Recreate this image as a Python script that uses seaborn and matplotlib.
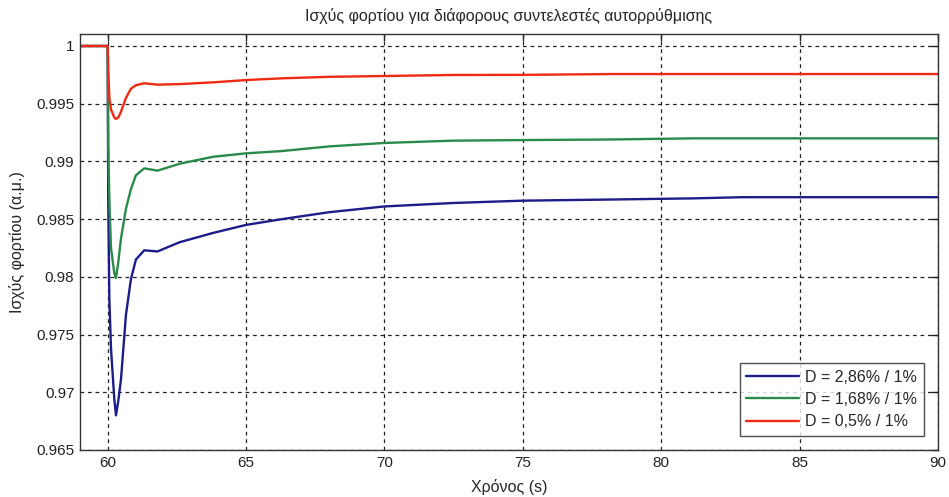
import pandas as pd
import matplotlib
matplotlib.use("Agg")
import matplotlib.pyplot as plt
import seaborn as sns

### values
time = [59.0, 60.0, 60.02, 60.06, 60.12, 60.24, 60.3, 60.38, 60.48, 60.66, 60.84,
        61.02, 61.32, 61.8, 62.6, 63.8, 65.0, 66.3, 68.0, 70.0, 72.5, 75.0, 78.2,
        81.2, 82.9, 90.0]

p_286 = [1.0, 1.0, 0.9868, 0.9781, 0.9738, 0.9694, 0.9680, 0.9692, 0.9711, 0.9767,
         0.9798, 0.9815, 0.9823, 0.9822, 0.9830, 0.9838, 0.9845, 0.9850, 0.9856,
         0.9861, 0.9864, 0.9866, 0.9867, 0.9868, 0.9869, 0.9869]

p_168 = [1.0, 1.0, 0.9915, 0.9867, 0.9825, 0.9803, 0.9799, 0.9812, 0.9833, 0.9859,
         0.9876, 0.9888, 0.9894, 0.9892, 0.9898, 0.9904, 0.9907, 0.9909, 0.9913,
         0.9916, 0.9918, 0.99185, 0.9919, 0.9920, 0.9920, 0.9920]

p_05 = [1.0, 1.0, 0.9980, 0.9955, 0.9945, 0.9938, 0.99368, 0.9938, 0.9943, 0.9955,
        0.9963, 0.9966, 0.99677, 0.99665, 0.9967, 0.99685, 0.99705, 0.9972, 0.99733,
        0.9974, 0.99749, 0.9975, 0.99757, 0.99757, 0.99757, 0.99757]

labels = ['D = 2,86% / 1%', 'D = 1,68% / 1%', 'D = 0,5% / 1%']
colors = ['#1c1c8a', '#2a8a4a', '#f02a12']

xticks = [60, 65, 70, 75, 80, 85, 90]
yticks = [0.965, 0.97, 0.975, 0.98, 0.985, 0.99, 0.995, 1.0]
ytick_labels = ['0.965', '0.97', '0.975', '0.98', '0.985', '0.99', '0.995', '1']

sns.set_style("white")
plt.rcParams['font.family'] = ['Liberation Sans', 'DejaVu Sans']

fig = plt.figure(figsize=(9.49, 4.97), dpi=100)
ax = fig.add_axes([0.0843, 0.0946, 0.904, 0.837])

for vals, lab, col in zip([p_286, p_168, p_05], labels, colors):
    df = pd.DataFrame({'t': time, 'P': vals})
    sns.lineplot(data=df, x='t', y='P', ax=ax, color=col, linewidth=1.7, label=lab)

ax.set_xlim(59, 90)
ax.set_ylim(0.965, 1.00104)
ax.set_xticks(xticks)
ax.set_yticks(yticks)
ax.set_yticklabels(ytick_labels)
ax.tick_params(direction='in', top=True, right=True, length=5, width=1,
               labelsize=11, colors='#222222')
ax.tick_params(axis='both', pad=4)
ax.grid(True, color='#222222', linestyle=(0, (3, 3)), linewidth=0.9)

for s in ax.spines.values():
    s.set_color('#333333')
    s.set_linewidth(1.0)

ax.set_title('Ισχύς φορτίου για διάφορους συντελεστές αυτορρύθμισης',
             fontsize=11.5, pad=9)
ax.set_xlabel('Χρόνος (s)', fontsize=11.5, labelpad=7)
ax.set_ylabel('Ισχύς φορτίου (α.μ.)', fontsize=11.5, labelpad=8)

leg = ax.legend(loc='lower right', fontsize=11.5, handlelength=3.3,
                frameon=True, fancybox=False, borderaxespad=0.9,
                labelspacing=0.45, handletextpad=0.4, borderpad=0.4)
leg.get_frame().set_edgecolor('#222222')
leg.get_frame().set_linewidth(1.0)
for line in leg.get_lines():
    line.set_linewidth(1.7)

fig.savefig('out.png', dpi=100)
